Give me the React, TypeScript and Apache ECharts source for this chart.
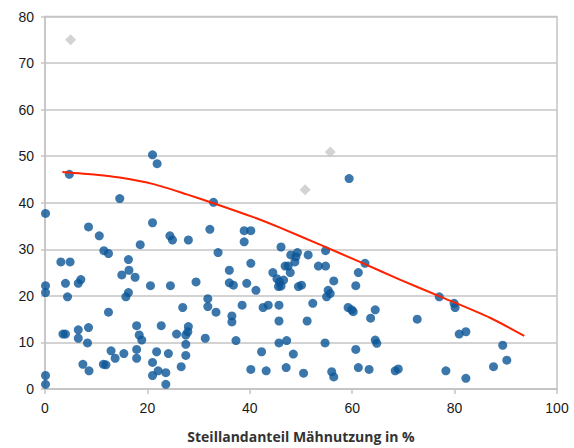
import React, { useEffect, useRef } from "react";
import * as echarts from "echarts";

const xTickLabels = ["0", "20", "40", "60", "80", "100"];
const xAxisTitle = "Steillandanteil Mähnutzung in %";

const blueX = [
  4.75, 21.0, 21.9, 14.6, 0.1, 8.5, 21.0, 10.6, 24.4, 24.9, 28.0, 11.5, 12.4, 18.6, 3.1, 4.9, 16.3, 16.4, 15.0, 17.6,
  7.0, 6.5, 4.0, 0.1, 0.1, 4.4, 16.3, 15.8, 20.6, 24.5, 29.5, 26.9, 12.4, 17.9, 22.7, 8.5, 6.5, 6.5, 3.5, 4.0,
  28.0, 27.9, 27.5, 25.7, 18.4, 18.9, 8.3, 27.5, 27.5, 17.9, 17.9, 12.9, 13.7, 15.4, 21.8, 24.1, 11.4, 11.9, 7.4, 8.6,
  21.0, 21.0, 22.1, 23.6, 23.6, 26.6, 0.1, 0.1,
  59.4, 32.9, 32.2, 38.9, 40.2, 38.9, 33.8, 46.1, 48.0, 49.3, 49.0, 51.4, 54.8, 48.8, 46.9, 47.5, 40.2, 36.0, 53.4, 54.8,
  62.5, 61.2, 44.5, 47.9, 45.3, 45.8, 46.6, 45.6, 46.1, 36.0, 36.8, 39.4, 41.2, 49.5, 50.1, 56.4, 55.3, 55.7, 55.0, 60.7,
  31.8, 31.8, 33.4, 38.5, 36.5, 36.5, 42.6, 43.6, 45.7, 45.7, 52.3, 51.2, 59.2, 59.9, 60.2, 64.5, 63.6, 31.3, 37.3, 45.7,
  47.2, 54.7, 64.5, 64.8, 42.3, 48.5, 60.7, 40.2, 43.2, 47.1, 50.5, 56.0, 56.4, 61.2, 63.3,
  77.0, 79.9, 80.1, 72.7, 80.9, 82.2, 89.4, 68.4, 69.0, 78.3, 82.2, 87.6, 90.2,
];
const blueY = [
  46.1, 50.3, 48.4, 40.9, 37.7, 34.8, 35.7, 32.9, 32.9, 32.0, 32.0, 29.7, 29.1, 31.0, 27.3, 27.3, 27.8, 25.5, 24.5, 24.0,
  23.5, 22.7, 22.7, 22.2, 20.7, 19.8, 20.7, 19.8, 22.2, 22.2, 23.0, 17.5, 16.5, 13.6, 13.6, 13.2, 12.7, 10.9, 11.8, 11.8,
  13.4, 12.3, 11.6, 11.8, 11.6, 10.5, 9.9, 9.6, 7.2, 8.5, 6.6, 8.2, 6.6, 7.6, 8.0, 7.6, 5.3, 5.2, 5.3, 3.9,
  5.7, 2.9, 3.9, 3.5, 1.0, 4.8, 2.9, 1.0,
  45.2, 40.1, 34.3, 34.0, 34.0, 31.6, 29.3, 30.5, 28.8, 29.3, 28.4, 28.8, 29.7, 27.3, 26.4, 26.4, 27.0, 25.5, 26.4, 26.4,
  27.0, 25.0, 25.0, 25.0, 23.7, 23.0, 23.4, 22.0, 22.1, 22.8, 22.3, 22.7, 21.2, 22.0, 22.3, 23.2, 21.2, 20.5, 19.8, 22.2,
  19.4, 17.7, 16.5, 18.0, 15.7, 14.4, 17.5, 18.0, 18.0, 14.6, 18.4, 14.6, 17.5, 17.0, 16.6, 17.0, 15.2, 10.9, 10.4, 9.9,
  10.4, 9.9, 10.5, 9.8, 8.0, 7.5, 8.5, 4.2, 3.9, 4.6, 3.4, 3.7, 2.6, 4.6, 4.2,
  19.8, 18.4, 17.5, 15.0, 11.8, 12.3, 9.4, 3.9, 4.3, 3.9, 2.3, 4.8, 6.2,
];

const grayX = [5.0, 50.8, 55.7];
const grayY = [75.0, 42.8, 50.9];

const curveX = [3.4, 10, 14.6, 21.2, 27.7, 33.2, 40.7, 46.0, 53.7, 61.5, 69.3, 77.1, 86.9, 93.6];
const curveY = [46.6, 46.0, 45.4, 44.0, 41.8, 39.8, 36.9, 34.6, 31.0, 27.3, 23.5, 19.9, 15.3, 11.4];

const zip = (xs: number[], ys: number[]) => xs.map((x, i) => [x, ys[i]]);

export default function App() {
  const ref = useRef<HTMLDivElement>(null);
  useEffect(() => {
    if (!ref.current) return;
    const chart = echarts.init(ref.current, null, { renderer: "svg" });
    const axisColor = "#c4c4c4";
    chart.setOption({
      animation: false,
      backgroundColor: "#ffffff",
      grid: {
        left: 45,
        top: 16.5,
        width: 512,
        height: 372.5,
        show: true,
        borderColor: axisColor,
        borderWidth: 1.5,
        backgroundColor: "transparent",
      },
      xAxis: {
        type: "value",
        min: 0,
        max: 100,
        interval: 20,
        name: xAxisTitle,
        nameLocation: "middle",
        nameGap: 40,
        nameTextStyle: {
          fontFamily: "Open Sans",
          fontWeight: "bold",
          fontSize: 14,
          color: "#333333",
        },
        axisLine: { show: true, lineStyle: { color: axisColor, width: 1.5 } },
        axisTick: { show: true, length: 5, lineStyle: { color: axisColor, width: 1.5 } },
        splitLine: { show: false },
        axisLabel: {
          margin: 12,
          fontFamily: "Liberation Sans",
          fontSize: 14,
          color: "#1a1a1a",
          formatter: (v: number) => xTickLabels[Math.round(v / 20)] ?? String(v),
        },
      },
      yAxis: {
        type: "value",
        min: 0,
        max: 80,
        interval: 10,
        axisLine: { show: true, lineStyle: { color: axisColor, width: 1.5 } },
        axisTick: { show: true, length: 4, lineStyle: { color: axisColor, width: 1.5 } },
        splitLine: { show: true, lineStyle: { color: axisColor, width: 1.5 } },
        axisLabel: {
          margin: 11,
          fontFamily: "Liberation Sans",
          fontSize: 14,
          color: "#1a1a1a",
        },
      },
      series: [
        {
          type: "scatter",
          data: zip(blueX, blueY),
          symbol: "circle",
          symbolSize: 9,
          itemStyle: { color: "#0b5597" },
          z: 3,
        },
        {
          type: "scatter",
          data: zip(grayX, grayY),
          symbol: "diamond",
          symbolSize: 11,
          itemStyle: { color: "#c8c8c8" },
          z: 3,
        },
        {
          type: "line",
          data: zip(curveX, curveY),
          smooth: 0.25,
          showSymbol: false,
          symbol: "none",
          lineStyle: { color: "#ff2200", width: 2 },
          z: 4,
        },
      ],
    });
    return () => chart.dispose();
  }, []);
  return (
    <div
      ref={ref}
      style={{ position: "fixed", left: 0, top: 0, width: 574, height: 448 }}
    />
  );
}
